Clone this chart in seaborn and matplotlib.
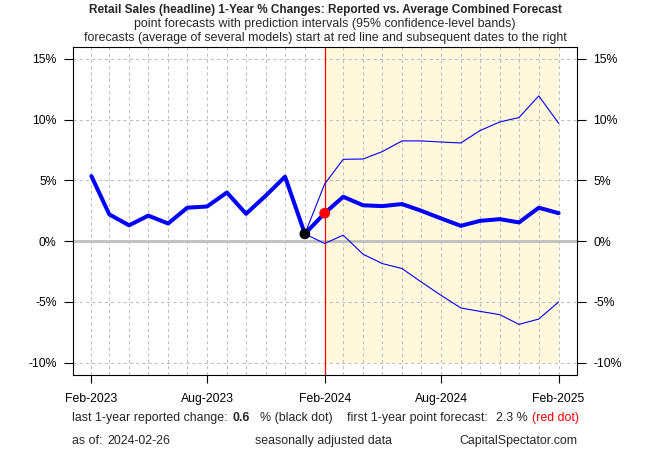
import numpy as np
import pandas as pd
import matplotlib
matplotlib.use("Agg")
import matplotlib.pyplot as plt
import seaborn as sns

# ---------------- data ----------------
reported_start = "2023-02-01"
reported = [5.35, 2.2, 1.3, 2.1, 1.45, 2.75, 2.85, 4.0, 2.25, 3.75, 5.3, 0.6]
forecast_start = "2024-02-01"
forecast = [2.3, 3.65, 2.95, 2.88, 3.05, 2.5, 1.87, 1.26, 1.67, 1.81, 1.54, 2.75, 2.3]
upper = [4.7, 6.73, 6.75, 7.36, 8.24, 8.24, 8.15, 8.07, 9.09, 9.8, 10.16, 11.94, 9.69]
lower = [-0.19, 0.49, -1.07, -1.84, -2.25, -3.35, -4.45, -5.49, -5.77, -6.04, -6.84, -6.4, -5.0]
xtick_dates = ["2023-02-01", "2023-08-01", "2024-02-01", "2024-08-01", "2025-02-01"]
xtick_labels = ["Feb-2023", "Aug-2023", "Feb-2024", "Aug-2024", "Feb-2025"]
ytick_values = [-10, -5, 0, 5, 10, 15]
ytick_labels = ["-10%", "-5%", "0%", "5%", "10%", "15%"]
last_reported = "0.6"
first_forecast = "2.3 %"
as_of = "2024-02-26"

# ---------------- frames ----------------
rep_dates = pd.date_range(reported_start, periods=len(reported), freq="MS")
fc_dates = pd.date_range(forecast_start, periods=len(forecast), freq="MS")
df_rep = pd.DataFrame({"date": rep_dates, "value": reported})
# forecast lines start from the last reported point
anchor_date = rep_dates[-1]
anchor_val = reported[-1]
fc_all_dates = [anchor_date] + list(fc_dates)
df_fc = pd.DataFrame({"date": fc_all_dates, "value": [anchor_val] + forecast})
df_up = pd.DataFrame({"date": fc_all_dates, "value": [anchor_val] + upper})
df_lo = pd.DataFrame({"date": fc_all_dates, "value": [anchor_val] + lower})

sns.set_theme(style="white")
plt.rcParams["font.family"] = ["Liberation Sans", "DejaVu Sans"]

W, H = 650, 450
fig = plt.figure(figsize=(6.5, 4.5), dpi=100)
L, R, T, B = 72.7, 577.3, 46.5, 375
ax = fig.add_axes([L / W, 1 - B / H, (R - L) / W, (B - T) / H])

blue = "#0000FF"
fs = 8.9
tfs = 8.8

# limits like R (4% extension)
x0 = pd.Timestamp(reported_start)
x1 = fc_dates[-1]
span = (x1 - x0)
ax.set_xlim(x0 - span * 0.04, x1 + span * 0.04)
ax.set_ylim(-11, 16)

# shaded forecast region
ax.axvspan(fc_dates[0], fc_dates[-1], ymin=(-10 - -11) / 27, ymax=1,
           color="#FFF8DC", lw=0, zorder=0)

# grid
all_months = pd.date_range(reported_start, fc_dates[-1], freq="MS")
for d in all_months:
    ax.axvline(d, color="#BEBEBE", lw=0.75, ls=(0, (3, 3)), zorder=1)
for yv in ytick_values:
    ax.axhline(yv, color="#BEBEBE", lw=0.75, ls=(0, (3, 3)), zorder=1)
ax.axhline(0, color="#BEBEBE", lw=2.0, zorder=2)
ax.axvline(fc_dates[0], color="red", lw=0.9, zorder=2)

# lines
sns.lineplot(data=df_up, x="date", y="value", ax=ax, color=blue, lw=0.8, zorder=3)
sns.lineplot(data=df_lo, x="date", y="value", ax=ax, color=blue, lw=0.8, zorder=3)
sns.lineplot(data=df_rep, x="date", y="value", ax=ax, color=blue, lw=2.9, zorder=4)
sns.lineplot(data=df_fc, x="date", y="value", ax=ax, color=blue, lw=2.9, zorder=4)

# dots
sns.scatterplot(x=[anchor_date], y=[anchor_val], ax=ax, color="black", s=60,
                edgecolor="none", zorder=6)
sns.scatterplot(x=[fc_dates[0]], y=[forecast[0]], ax=ax, color="red", s=60,
                edgecolor="none", zorder=6)

ax.set_xlabel("")
ax.set_ylabel("")
ax.set_xticks(pd.to_datetime(xtick_dates))
ax.set_xticklabels(xtick_labels, fontsize=tfs)
ax.set_yticks(ytick_values)
ax.set_yticklabels(ytick_labels, fontsize=tfs)
ax.tick_params(axis="x", direction="out", length=6, width=0.8, pad=7,
               colors="black", bottom=True)
ax.tick_params(axis="y", direction="out", length=6.5, width=0.8, pad=5,
               colors="black", left=True, right=True, labelright=True)
for s in ax.spines.values():
    s.set_visible(True)
    s.set_color("black")
    s.set_linewidth(0.8)

# titles
cx = (L + R) / 2 / W
fig.text(cx, 1 - 9.5 / H, "Retail Sales (headline) 1-Year % Changes: Reported vs. Average Combined Forecast",
         ha="center", va="center", fontsize=8.45, fontweight="bold")
fig.text(cx, 1 - 24.5 / H, "point forecasts with prediction intervals (95% confidence-level bands)",
         ha="center", va="center", fontsize=fs)
fig.text(cx, 1 - 37.5 / H, "forecasts (average of several models) start at red line and subsequent dates to the right",
         ha="center", va="center", fontsize=fs)

# bottom notes
y1 = 1 - 418.3 / H
y2 = 1 - 440.7 / H
fig.text(72.3 / W, y1, "last 1-year reported change:", ha="left", va="center", fontsize=fs)
fig.text(232.3 / W, y1, last_reported, ha="left", va="center", fontsize=fs, fontweight="bold")
fig.text(259.8 / W, y1, "% (black dot)", ha="left", va="center", fontsize=fs)
fig.text(347.4 / W, y1, "first 1-year point forecast:", ha="left", va="center", fontsize=fs)
fig.text(496.0 / W, y1, first_forecast, ha="left", va="center", fontsize=fs)
fig.text(531.5 / W, y1, "(red dot)", ha="left", va="center", fontsize=fs, color="red")
fig.text(72.3 / W, y2, "as of:", ha="left", va="center", fontsize=fs)
fig.text(107.7 / W, y2, as_of, ha="left", va="center", fontsize=fs)
fig.text(255.3 / W, y2, "seasonally adjusted data", ha="left", va="center", fontsize=fs)
fig.text(R / W, y2, "CapitalSpectator.com", ha="right", va="center", fontsize=fs)

fig.savefig("out.png", dpi=100, facecolor="white")
